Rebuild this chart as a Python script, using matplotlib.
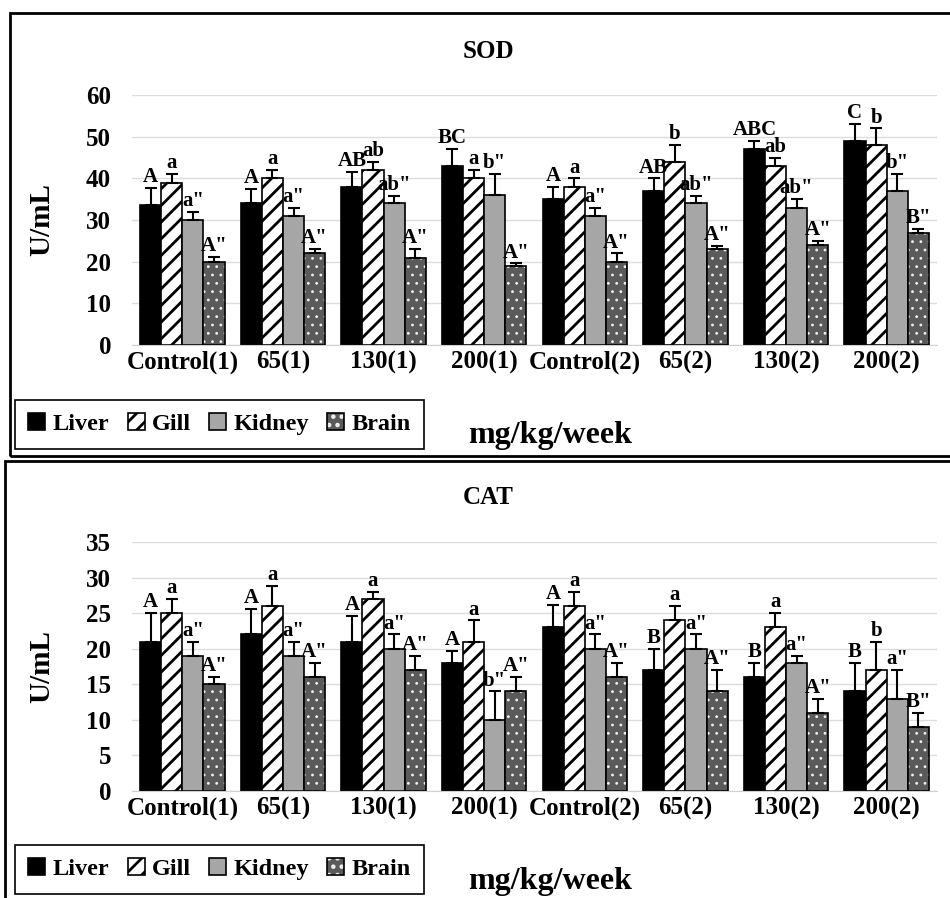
import matplotlib.pyplot as plt
import numpy as np
from matplotlib.patches import Rectangle
from matplotlib.legend_handler import HandlerTuple

groups = ["Control(1)", "65(1)", "130(1)", "200(1)", "Control(2)", "65(2)", "130(2)", "200(2)"]
tissues = ["Liver", "Gill", "Kidney", "Brain"]

# SOD (U/mL), means and upper error
sod_liver = [33.5, 34, 38, 43, 35, 37, 47, 49]
sod_liver_sd = [4.3, 3.5, 3.5, 4, 3, 3, 2, 4]
sod_gill = [39, 40, 42, 40, 38, 44, 43, 48]
sod_gill_sd = [2, 2, 2, 2, 2, 4, 2, 4]
sod_kidney = [30, 31, 34, 36, 31, 34, 33, 37]
sod_kidney_sd = [2, 2, 1.7, 5, 2, 1.7, 2, 4]
sod_brain = [20, 22, 21, 19, 20, 23, 24, 27]
sod_brain_sd = [1.2, 1, 2, 0.6, 2, 0.7, 1, 0.8]
sod_letters = [
    ["A", "A", "AB", "BC", "A", "AB", "ABC", "C"],
    ["a", "a", "ab", "a", "a", "b", "ab", "b"],
    ['a"', 'a"', 'ab"', 'b"', 'a"', 'ab"', 'ab"', 'b"'],
    ['A"', 'A"', 'A"', 'A"', 'A"', 'A"', 'A"', 'B"'],
]

# CAT (U/mL)
cat_liver = [21, 22, 21, 18, 23, 17, 16, 14]
cat_liver_sd = [4, 3.6, 3.6, 1.7, 3.2, 3, 2, 4]
cat_gill = [25, 26, 27, 21, 26, 24, 23, 17]
cat_gill_sd = [2, 2.8, 1, 3, 2, 2, 2, 4]
cat_kidney = [19, 19, 20, 10, 20, 20, 18, 13]
cat_kidney_sd = [2, 2, 2, 4, 2, 2, 1, 4]
cat_brain = [15, 16, 17, 14, 16, 14, 11, 9]
cat_brain_sd = [1, 2, 2, 2, 2, 3, 2, 2]
cat_letters = [
    ["A", "A", "A", "A", "A", "B", "B", "B"],
    ["a", "a", "a", "a", "a", "a", "a", "b"],
    ['a"', 'a"', 'a"', 'b"', 'a"', 'a"', 'a"', 'a"'],
    ['A"', 'A"', 'A"', 'A"', 'A"', 'A"', 'A"', 'B"'],
]

plt.rcParams['font.family'] = ['Liberation Serif', 'DejaVu Serif']
plt.rcParams['font.weight'] = 'bold'
plt.rcParams['hatch.linewidth'] = 2.0

W, H = 950, 898
fig = plt.figure(figsize=(W / 100, H / 100), dpi=100)


def fx(px):
    return px / W


def fy(py):
    return 1 - py / H


def thin_hatch(container):
    for p in container:
        if hasattr(p, 'set_hatch_linewidth'):
            p.set_hatch_linewidth(0.8)


def panel(ax_top, ax_bot, ymax, ystep, means, sds, letters, title, title_y, box, leg_top, xlab_y):
    ax = fig.add_axes([fx(132), fy(ax_bot), fx(937) - fx(132), fy(ax_top) - fy(ax_bot)])
    x = np.arange(len(groups))
    w = 0.21
    handles = []
    for j in range(4):
        xs = x + (j - 1.5) * w
        vals = np.array(means[j])
        err = np.array(sds[j])
        if j == 0:
            b = ax.bar(xs, vals, w, color='black', edgecolor='black', linewidth=1.2, zorder=2)
            handles.append(b)
        elif j == 1:
            b = ax.bar(xs, vals, w, color='white', edgecolor='black', hatch='//', linewidth=1.2, zorder=2)
            handles.append(b)
        elif j == 2:
            b = ax.bar(xs, vals, w, color='#a6a6a6', edgecolor='black', linewidth=1.2, zorder=2)
            handles.append(b)
        else:
            b1 = ax.bar(xs, vals, w, color='#5a5a5a', edgecolor='#f0f0f0', hatch='..', linewidth=0, zorder=2)
            thin_hatch(b1)
            b2 = ax.bar(xs, vals, w, fill=False, edgecolor='black', linewidth=1.2, zorder=3)
            handles.append((b1, b2))
        ax.errorbar(xs, vals, yerr=[np.zeros_like(err), err], fmt='none', ecolor='black',
                    elinewidth=1.5, capsize=4, capthick=1.5, zorder=4)
        for xi, v, e, t in zip(xs, vals, err, letters[j]):
            ax.text(xi, v + e + ymax * 0.003, t, ha='center', va='bottom', fontsize=15,
                    fontweight='bold', zorder=5)
    ax.set_xlim(-0.5, len(groups) - 0.5)
    ax.set_ylim(0, ymax)
    ax.set_yticks(np.arange(0, ymax + 0.1, ystep))
    ax.set_xticks(x)
    ax.set_xticklabels(groups, fontsize=18, fontweight='bold')
    ax.tick_params(axis='both', length=0, labelsize=18)
    ax.tick_params(axis='y', pad=15)
    ax.tick_params(axis='x', pad=4)
    for s in ['top', 'right', 'left']:
        ax.spines[s].set_visible(False)
    ax.spines['bottom'].set_color('#d0d0d0')
    ax.grid(axis='y', color='#dcdcdc', linewidth=1)
    ax.set_axisbelow(True)
    ax.set_ylabel("U/mL", fontsize=21, fontweight='bold')
    ax.yaxis.set_label_coords(-0.095, 0.5)

    fig.text(fx(488), fy(title_y), title, ha='center', va='center', fontsize=18, fontweight='bold')
    fig.text(fx(550), fy(xlab_y), "mg/kg/week", ha='center', va='center', fontsize=23, fontweight='bold')
    fig.patches.append(Rectangle((fx(box[0]), fy(box[3])), fx(box[2]) - fx(box[0]),
                                 fy(box[1]) - fy(box[3]), transform=fig.transFigure,
                                 fill=False, edgecolor='black', linewidth=2))
    leg = fig.legend(handles, tissues, loc='upper left', bbox_to_anchor=(fx(15), fy(leg_top)),
                     borderaxespad=0, ncol=4, frameon=True, fancybox=False, framealpha=1,
                     edgecolor='black', handlelength=0.7, handleheight=0.7, handletextpad=0.3,
                     columnspacing=0.75, borderpad=0.55, prop={'weight': 'bold', 'size': 17.5},
                     handler_map={tuple: HandlerTuple(ndivide=1)})
    leg.get_frame().set_linewidth(1.2)
    return ax


panel(95, 345, 60, 10,
      [sod_liver, sod_gill, sod_kidney, sod_brain],
      [sod_liver_sd, sod_gill_sd, sod_kidney_sd, sod_brain_sd],
      sod_letters, "SOD", 52, (10, 13, 952, 456), 400, 435)
panel(542, 791, 35, 5,
      [cat_liver, cat_gill, cat_kidney, cat_brain],
      [cat_liver_sd, cat_gill_sd, cat_kidney_sd, cat_brain_sd],
      cat_letters, "CAT", 497, (5, 461, 952, 902), 845, 882)

fig.savefig("out.png", dpi=100)
